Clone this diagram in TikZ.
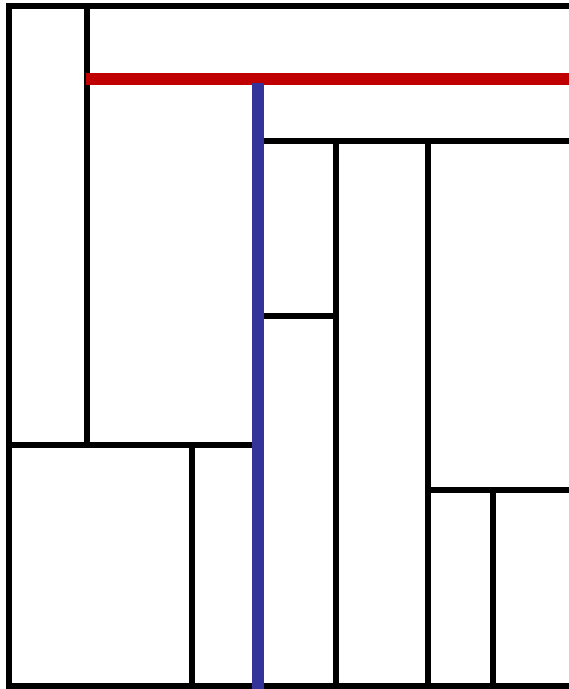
\documentclass[tikz,border=0pt]{standalone}
\definecolor{SplitRed}{HTML}{C00000}
\definecolor{SplitBlue}{HTML}{333399}
\begin{document}
\begin{tikzpicture}[x=1pt,y=-1pt,
    cell/.style={line width=6pt,black},
    cutred/.style={line width=12pt,SplitRed},
    cutblue/.style={line width=12pt,SplitBlue}
  ]
  \clip (0,0) rectangle (569,689);
  \coordinate (tl) at (9,6);
  \coordinate (bl) at (9,686);
  % outer frame, right side runs off the page
  \draw[cell] (575,6) -- (tl) -- (bl) -- (575,686);
  % left strip and lower left cells
  \draw[cell] (87,6) -- (87,445);
  \draw[cell] (9,445) -- (258,445);
  \draw[cell] (192,445) -- (192,686);
  % right half
  \draw[cell] (258,141) -- (575,141);
  \draw[cell] (336,141) -- (336,686);
  \draw[cell] (258,316) -- (336,316);
  \draw[cell] (428,141) -- (428,686);
  \draw[cell] (428,490) -- (575,490);
  \draw[cell] (493,490) -- (493,686);
  % highlighted splits
  \draw[cutred] (86,79) -- (575,79);
  \draw[cutblue] (258,83) -- (258,689);
\end{tikzpicture}
\end{document}
